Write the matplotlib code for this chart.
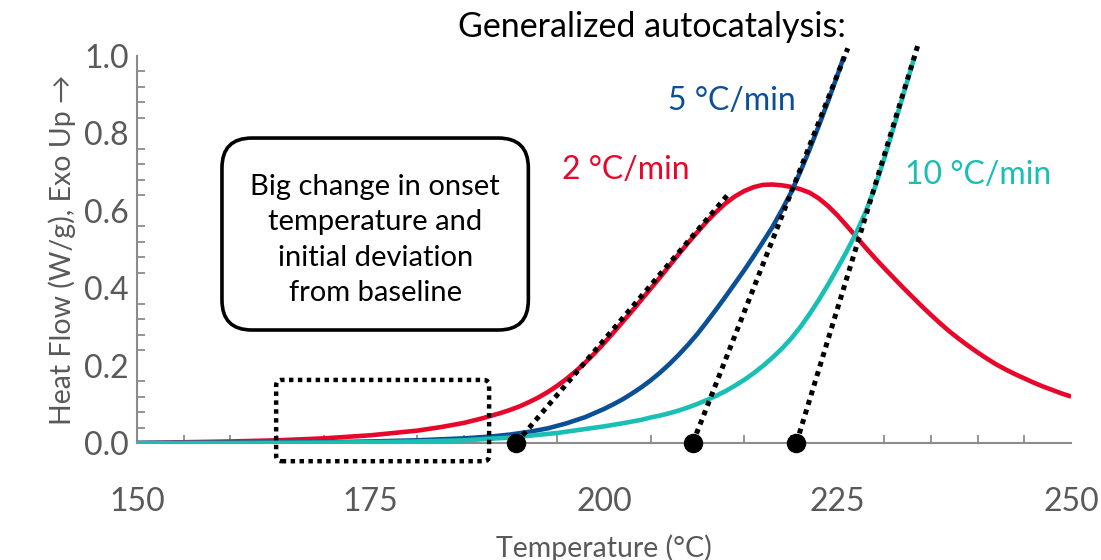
import matplotlib
matplotlib.use("Agg")
import matplotlib.pyplot as plt
from matplotlib.patches import FancyBboxPatch
from matplotlib.ticker import MultipleLocator, FixedLocator

plt.rcParams['font.family'] = ['Lato', 'DejaVu Sans']

# Heat flow curves (W/g) for three heating rates
temp_2 = [150, 155, 160, 165, 170, 175, 180, 182.5, 185, 186, 187, 188, 189, 190,
          191, 192, 193, 194, 195, 196, 197, 198, 199, 200, 201, 202, 203, 204, 205,
          206, 207, 208, 209, 210, 211, 212, 213, 214, 215, 216, 217, 218, 219, 220,
          221, 222, 223, 224, 225, 226, 227, 228, 229, 230, 231, 232, 233, 234, 235,
          236, 237, 238, 239, 240, 241, 242, 243, 244, 245, 246, 247, 248, 249, 250]
flow_2 = [0.000, 0.002, 0.004, 0.007, 0.012, 0.020, 0.032, 0.041, 0.052, 0.058, 0.064,
          0.071, 0.078, 0.086, 0.095, 0.106, 0.118, 0.132, 0.148, 0.166, 0.186, 0.208,
          0.232, 0.258, 0.285, 0.313, 0.341, 0.370, 0.399, 0.428, 0.458, 0.488, 0.517,
          0.545, 0.572, 0.597, 0.619, 0.637, 0.651, 0.661, 0.667, 0.668, 0.666, 0.662,
          0.656, 0.647, 0.632, 0.612, 0.588, 0.561, 0.533, 0.505, 0.478, 0.452, 0.427,
          0.402, 0.378, 0.354, 0.331, 0.309, 0.288, 0.269, 0.251, 0.234, 0.218, 0.203,
          0.190, 0.178, 0.167, 0.156, 0.146, 0.137, 0.128, 0.120]

temp_5 = [150, 160, 170, 175, 180, 185, 188, 190, 192, 194, 196, 198, 200, 201, 202,
          203, 204, 205, 206, 207, 208, 209, 210, 211, 212, 213, 214, 215, 216, 217,
          218, 219, 220, 221, 222, 223, 224, 225, 225.7]
flow_5 = [0.000, 0.001, 0.002, 0.004, 0.007, 0.012, 0.017, 0.022, 0.029, 0.038, 0.051,
          0.067, 0.088, 0.100, 0.113, 0.128, 0.144, 0.162, 0.182, 0.204, 0.228, 0.254,
          0.282, 0.313, 0.345, 0.378, 0.412, 0.446, 0.482, 0.519, 0.557, 0.600, 0.646,
          0.700, 0.758, 0.820, 0.884, 0.951, 1.000]

temp_10 = [150, 160, 170, 175, 180, 185, 190, 195, 200, 202, 204, 205, 206, 207, 208,
           209, 210, 211, 212, 213, 214, 215, 216, 217, 218, 219, 220, 221, 222, 223,
           224, 225, 226, 227, 228, 229, 230, 231, 232, 233, 233.3]
flow_10 = [0.000, 0.000, 0.001, 0.002, 0.004, 0.007, 0.014, 0.026, 0.043, 0.051, 0.060,
           0.066, 0.071, 0.077, 0.084, 0.092, 0.101, 0.111, 0.122, 0.134, 0.148, 0.163,
           0.180, 0.199, 0.220, 0.243, 0.269, 0.299, 0.333, 0.370, 0.410, 0.452, 0.496,
           0.543, 0.597, 0.660, 0.735, 0.815, 0.897, 0.978, 1.000]

rate_labels = ['2 °C/min', '5 °C/min', '10 °C/min']
colors = ['#E8072B', '#0B4F96', '#17BFB4']

# Extrapolated onset tangents: onset temperature and upper end point
onset_temps = [190.6, 209.5, 220.6]
tangent_end_temps = [213.2, 226.1, 233.6]
tangent_end_flows = [0.64, 1.02, 1.028]

x_ticks = [150, 175, 200, 225, 250]
y_ticks = [0.0, 0.2, 0.4, 0.6, 0.8, 1.0]

fig = plt.figure(figsize=(11.01, 5.60), dpi=100)
ax = fig.add_axes([0.1244, 0.2089, 0.8484, 0.6911])

for t, f, c in zip([temp_2, temp_5, temp_10], [flow_2, flow_5, flow_10], colors):
    ax.plot(t, f, color=c, lw=3.3, solid_capstyle='butt', solid_joinstyle='round',
            zorder=3)

for t0, t1, f1 in zip(onset_temps, tangent_end_temps, tangent_end_flows):
    ax.plot([t0, t1], [0, f1], color='black', lw=3.6, linestyle=(0, (1, 1)),
            dash_capstyle='butt', clip_on=False, zorder=4)
ax.plot(onset_temps, [0] * len(onset_temps), 'o', color='black', ms=13,
        clip_on=False, zorder=5)

ax.set_xlim(150, 250)
ax.set_ylim(0, 1.0)

grey = '#8C8C8C'
for side in ['top', 'right']:
    ax.spines[side].set_visible(False)
for side in ['left', 'bottom']:
    ax.spines[side].set_color(grey)
    ax.spines[side].set_linewidth(1.5)

ax.xaxis.set_major_locator(FixedLocator(x_ticks))
ax.yaxis.set_major_locator(FixedLocator(y_ticks))
ax.xaxis.set_minor_locator(MultipleLocator(5))
ax.yaxis.set_minor_locator(MultipleLocator(0.04))
ax.set_xticklabels([str(v) for v in x_ticks])
ax.set_yticklabels([f'{v:.1f}' for v in y_ticks])
ax.tick_params(which='major', length=0, labelsize=23, labelcolor='#595959')
ax.tick_params(axis='x', which='major', pad=32)
ax.tick_params(axis='y', which='major', pad=6)
ax.tick_params(which='minor', direction='in', length=6, width=1.3, color=grey)

ax.set_xlabel('Temperature (°C)', fontsize=20.5, color='#595959', labelpad=12)
ax.set_ylabel('Heat Flow (W/g), Exo Up →', fontsize=20.5, color='#595959', labelpad=6)

# Series labels
ax.text(195.5, 0.705, rate_labels[0], color=colors[0], fontsize=23, va='center', ha='left')
ax.text(206.9, 0.884, rate_labels[1], color=colors[1], fontsize=23, va='center', ha='left')
ax.text(232.2, 0.692, rate_labels[2], color=colors[2], fontsize=23, va='center', ha='left')

fig.text(0.592, 0.952, 'Generalized autocatalysis:', fontsize=24.5, color='black',
         ha='center', va='center')

# Aspect of data units on screen, so rounded corners stay circular
aspect = (0.6911 * 560 / 1.0) / (0.8484 * 1101 / 100.0)

# Rounded text box
box = FancyBboxPatch((159.1, 0.292), 191.9 - 159.1, 0.788 - 0.292,
                     boxstyle='round,pad=0,rounding_size=3.2',
                     mutation_aspect=1 / aspect, fc='white', ec='black', lw=2.6,
                     zorder=6, clip_on=False)
ax.add_patch(box)
ax.text((159.1 + 191.9) / 2, 0.524,
        'Big change in onset\ntemperature and\ninitial deviation\nfrom baseline',
        ha='center', va='center', fontsize=21, color='black', linespacing=1.45,
        zorder=7)

# Dotted highlight around the early deviation region
hl = FancyBboxPatch((164.9, -0.047), 187.7 - 164.9, 0.163 + 0.047,
                    boxstyle='round,pad=0,rounding_size=0.6',
                    mutation_aspect=1 / aspect, fc='none', ec='black', lw=3.2,
                    linestyle=(0, (1, 1)), zorder=6, clip_on=False)
ax.add_patch(hl)

fig.savefig('out.png', dpi=100)
